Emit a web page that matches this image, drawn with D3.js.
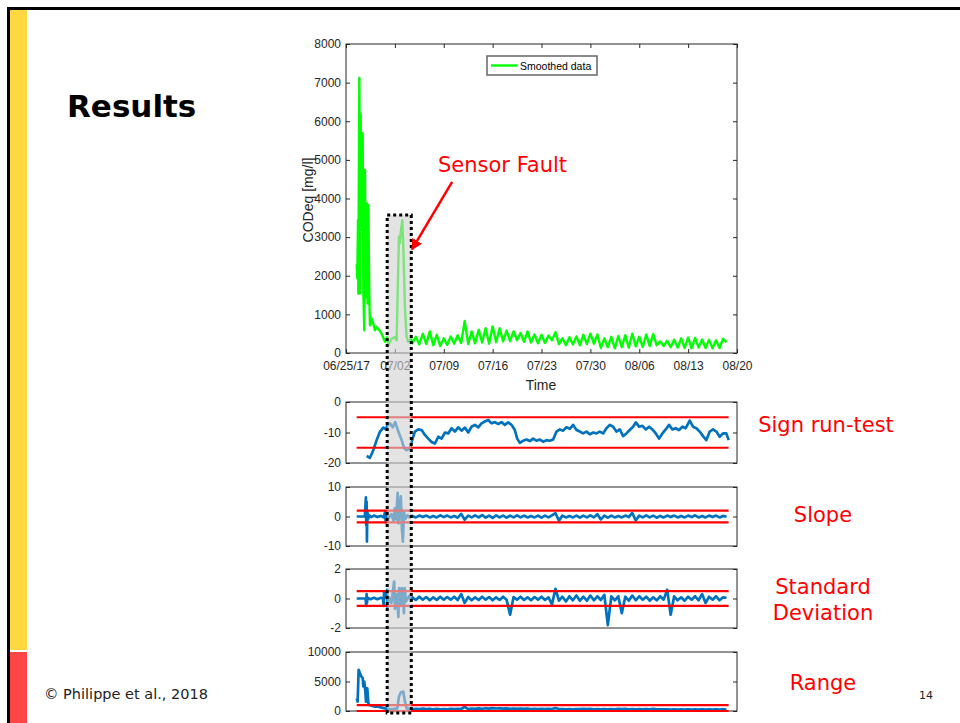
<!DOCTYPE html>
<html>
<head>
<meta charset="utf-8">
<script src="https://cdn.jsdelivr.net/npm/d3@7/dist/d3.min.js"></script>
<style>
  html, body { margin: 0; padding: 0; background: #fff; }
  svg { display: block; }
</style>
</head>
<body>
<svg id="slide" width="960" height="723"></svg>
<script>
// ---- data (time in days after 06/25/17) ----
const startDate = new Date(2017, 5, 25);
const endDate = new Date(2017, 7, 20);
const tailStart = 9.5;   // regular half-day sampling after the fault
const tailStep = 0.5;

// smoothed CODeq [mg/l]
const codEarly = [
  [1.53, 2300], [1.62, 1930], [1.72, 3440], [1.76, 1540], [1.91, 7120], [2.00, 1540],
  [2.10, 6170], [2.24, 3180], [2.39, 5690], [2.48, 1630], [2.62, 590], [2.72, 4740],
  [2.81, 1450], [2.96, 3880], [3.10, 1280], [3.20, 3830], [3.34, 1450], [3.43, 720],
  [3.67, 890], [3.91, 760], [4.15, 590], [4.39, 670], [4.77, 590], [5.10, 500],
  [5.58, 290], [5.91, 415], [6.06, 200], [6.53, 370], [7.01, 415], [7.25, 330],
  [7.58, 3010], [7.73, 2840], [7.87, 3180], [8.06, 3440], [8.20, 2840], [8.44, 1190],
  [8.68, 415], [8.92, 290], [9.30, 370]
];
const codTail = [
  250, 420, 220, 500, 230, 560, 200, 470, 180, 380,
  210, 430, 240, 460, 260, 830, 230, 560, 250, 600,
  270, 640, 240, 690, 280, 640, 300, 580, 310, 560,
  330, 520, 290, 560, 270, 480, 250, 470, 260, 450,
  330, 540, 230, 380, 200, 410, 220, 430, 200, 470,
  230, 500, 240, 480, 130, 380, 150, 420, 120, 440,
  150, 460, 140, 500, 170, 420, 160, 480, 180, 490,
  200, 300, 180, 320, 150, 340, 140, 380, 130, 400,
  120, 390, 140, 350, 130, 340, 120, 330, 130, 370,
  280
];

// sign run-test
const signPairs = [
  [2.96, -17.7], [3.43, -18.3], [3.91, -15.8], [4.39, -12.5], [4.87, -9.7], [5.34, -8.4],
  [5.72, -9.0], [5.91, -7.8], [6.30, -7.0], [6.68, -8.3], [7.06, -6.6], [7.49, -9.7],
  [7.97, -12.5], [8.35, -15.2], [8.68, -15.8], [9.16, -15.2], [9.40, -13.0], [9.87, -9.7],
  [10.35, -9.0], [10.83, -9.2], [11.30, -10.8], [11.78, -12.0], [12.26, -13.1], [12.74, -13.6],
  [13.21, -11.4], [13.69, -12.0], [14.17, -10.0], [14.64, -10.3], [15.12, -8.6], [15.60, -9.7],
  [16.07, -8.3], [16.55, -9.4], [17.03, -8.4], [17.51, -10.0], [17.98, -8.1], [18.46, -7.5],
  [18.94, -8.3], [19.41, -7.0], [19.89, -6.4], [20.37, -5.9], [20.84, -7.0], [21.32, -6.6],
  [21.80, -7.2], [22.28, -6.6], [22.75, -7.5], [23.23, -6.7], [23.71, -7.5], [24.18, -9.2],
  [24.52, -12.0], [24.90, -13.4], [25.38, -12.7], [25.85, -12.3], [26.33, -12.8], [26.81, -12.0],
  [27.28, -12.7], [27.76, -12.3], [28.24, -13.0], [28.72, -12.5], [29.19, -12.7], [29.67, -12.3],
  [30.15, -9.7], [30.62, -9.0], [31.10, -9.4], [31.58, -8.3], [32.05, -8.8], [32.53, -7.5],
  [33.01, -9.2], [33.49, -9.7], [33.96, -10.3], [34.44, -9.7], [34.92, -10.6], [35.39, -10.0],
  [35.87, -10.3], [36.35, -9.7], [36.82, -10.3], [37.30, -8.6], [37.78, -7.5], [38.26, -8.1],
  [38.73, -9.7], [39.21, -9.0], [39.69, -11.2], [40.16, -10.3], [40.64, -9.2], [41.12, -8.1],
  [41.50, -6.7], [41.98, -8.1], [42.45, -7.8], [42.93, -9.0], [43.41, -8.1], [43.88, -9.0],
  [44.36, -10.3], [44.84, -12.0], [45.32, -10.3], [45.79, -9.0], [46.27, -7.5], [46.75, -9.0],
  [47.22, -8.6], [47.70, -9.2], [48.18, -8.1], [48.65, -8.6], [49.23, -6.1], [49.70, -8.1],
  [50.18, -8.6], [50.66, -9.7], [51.13, -11.2], [51.61, -12.5], [52.09, -9.7], [52.57, -9.0],
  [53.04, -9.7], [53.52, -11.4], [54.00, -10.3], [54.47, -10.3], [54.81, -12.5]
];

// slope
const slopeEarly = [
  [1.53, 0], [2.70, 0], [2.85, 6.5], [2.90, -3], [2.95, 5], [3.00, -8.5], [3.05, 2],
  [3.15, -1], [3.30, 0.4], [3.60, -0.2], [4.00, 0.3], [4.50, -0.2], [5.00, 0.2], [5.40, -0.3],
  [5.60, 1.5], [5.70, -2], [5.80, 0.3], [6.10, -0.5], [6.50, 0.8], [6.80, -1.5], [7.00, 2.8],
  [7.20, -1], [7.40, 8], [7.50, -2.3], [7.70, 3], [7.85, 6.8], [8.00, -4], [8.15, -8.5],
  [8.30, 1.5], [8.50, -0.8], [8.80, 0.4], [9.10, -0.3], [9.40, 0.2]
];
const slopeTail = [
  0.2, -0.3, 0.3, -0.2, 0.3, -0.3, 0.2, -0.3, 0.4, -0.2,
  0.3, -0.3, 0.2, -0.4, 0.9, -1.1, 0.3, -0.3, 0.4, -0.3,
  0.5, -0.4, 0.3, -0.5, 0.4, -0.3, 0.3, -0.4, 0.3, -0.3,
  0.4, -0.3, 0.3, -0.3, 0.2, -0.3, 0.3, -0.4, 0.3, -0.3,
  0.4, 1.1, -1.4, 0.3, -0.3, 0.2, -0.3, 0.3, -0.4, 0.3,
  -0.3, 0.4, -0.3, 0.8, -1.0, 0.3, -0.4, 0.3, -0.3, 0.2,
  -0.3, 0.3, -0.2, 1.2, -1.3, 0.3, -0.3, 0.4, -0.3, 0.3,
  -0.4, 0.2, -0.3, 0.3, -0.2, 0.3, -0.3, 0.2, -0.3, 0.3,
  -0.2, 0.4, -0.3, 0.2, -0.3, 0.3, -0.2, 0.3, -0.3, 0.2,
  -0.1
];

// standard deviation
const stdEarly = [
  [1.53, 0], [2.80, 0], [2.90, -0.5], [2.95, 0.3], [3.00, -0.3], [3.10, 0.05], [3.50, -0.05],
  [4.00, 0.05], [4.50, -0.05], [5.00, 0.05], [5.30, 0], [5.40, -0.5], [5.45, 0.4], [5.50, 0],
  [5.90, 0.6], [5.95, -0.6], [6.10, 0.1], [6.50, -0.3], [6.90, 1.15], [7.00, -0.7], [7.30, 0.3],
  [7.50, -1.25], [7.60, 0.7], [7.80, -0.5], [8.00, 0.7], [8.20, -0.3], [8.30, -1.0], [8.40, 0.7],
  [8.60, -0.2], [9.00, 0.15], [9.40, -0.08]
];
const stdTail = [
  0.08, -0.1, 0.12, -0.08, 0.1, -0.12, 0.08, -0.1, 0.12, -0.08,
  0.1, -0.08, 0.12, -0.1, 0.3, -0.3, 0.1, -0.12, 0.08, -0.1,
  0.12, -0.08, 0.1, -0.12, 0.08, -0.1, 0.12, -0.08, -1.1, 0.1,
  -0.08, 0.12, -0.1, 0.08, -0.12, 0.1, -0.08, 0.12, -0.1, 0.08,
  -0.4, 0.65, -0.15, 0.12, -0.2, 0.15, -0.12, 0.2, -0.15, 0.12,
  -0.15, 0.2, -0.12, 0.15, -0.1, 0.25, -1.8, 0.15, -0.12, 0.15,
  -1.0, 0.12, -0.15, 0.2, -0.12, 0.15, -0.08, 0.12, -0.15, 0.08,
  -0.12, 0.15, -0.08, 0.6, -1.1, 0.15, -0.12, 0.08, -0.15, 0.12,
  -0.08, 0.15, -0.12, 0.3, -0.3, 0.12, -0.08, 0.15, -0.12, 0.08,
  0.05
];

// range
const rangeEarly = [
  [1.53, 2160], [1.67, 1590], [1.81, 6990], [2.00, 6420], [2.19, 5850], [2.39, 5570],
  [2.48, 4150], [2.62, 5000], [2.77, 3300], [2.86, 1590], [3.05, 3860], [3.20, 1310],
  [3.34, 1020], [3.67, 910], [4.15, 740], [4.63, 740], [5.10, 570], [5.58, 450],
  [6.06, 340], [6.77, 340], [7.35, 450], [7.58, 2440], [7.87, 3180], [8.20, 3290],
  [8.44, 1590], [8.68, 450], [9.16, 340]
];
const rangeTail = [
  300, 350, 320, 400, 330, 380, 300, 350, 280, 330,
  300, 360, 320, 380, 340, 700, 330, 420, 350, 440,
  380, 460, 400, 480, 420, 450, 400, 430, 380, 420,
  370, 400, 350, 390, 340, 380, 330, 360, 320, 350,
  330, 500, 340, 320, 290, 330, 300, 340, 310, 350,
  320, 360, 300, 340, 280, 330, 290, 340, 300, 360,
  310, 350, 290, 340, 300, 330, 280, 320, 290, 380,
  300, 280, 260, 290, 250, 280, 240, 290, 250, 300,
  240, 280, 250, 270, 240, 260, 230, 270, 240, 260,
  250
];

// control limits and fault window
const limitSpan = [1.53, 54.8];
const signLimits = [-5, -15];
const slopeLimits = [2, -2];
const stdLimits = [0.5, -0.5];
const rangeLimits = [1000, 0];
const faultWindow = [5.9, 9.35];
const faultTopCod = 3570;

// ---- drawing ----
const svg = d3.select('#slide');
const toDate = d => new Date(startDate.getTime() + d * 864e5);
const withTail = (early, tail) => early.concat(tail.map((v, i) => [tailStart + i * tailStep, v]));
const plainNum = d => String(d);   // ascii hyphen minus, like the original figure

const axisColor = '#262626';
const tickFont = '"Liberation Sans", Arial, sans-serif';
const slideFont = '"DejaVu Sans", Verdana, sans-serif';

// slide frame and side stripe
svg.append('rect').attr('x', 7).attr('y', 7).attr('width', 953).attr('height', 3).attr('fill', '#000');
svg.append('rect').attr('x', 7).attr('y', 7).attr('width', 3).attr('height', 716).attr('fill', '#000');
svg.append('rect').attr('x', 10).attr('y', 10).attr('width', 17).attr('height', 640).attr('fill', '#ffd740');
svg.append('rect').attr('x', 10).attr('y', 652).attr('width', 17).attr('height', 71).attr('fill', '#ff4545');

svg.append('text').attr('x', 67).attr('y', 117)
  .style('font-family', slideFont).style('font-weight', 'bold').style('font-size', '31px')
  .attr('fill', '#000').text('Results');

svg.append('text').attr('x', 44).attr('y', 699)
  .style('font-family', slideFont).style('font-size', '14.5px').attr('fill', '#222')
  .text('© Philippe et al., 2018');
svg.append('text').attr('x', 919).attr('y', 699)
  .style('font-family', slideFont).style('font-size', '11px').attr('fill', '#222').text('14');

const x = d3.scaleTime().domain([startDate, endDate]).range([346, 737]);

function styleAxis(g) {
  g.select('.domain').remove();
  g.selectAll('line').attr('stroke', axisColor);
  g.selectAll('text').attr('fill', axisColor).style('font-family', tickFont).style('font-size', '12px');
}

// ---- main chart ----
const mainBox = { t: 44, b: 353 };
const yCod = d3.scaleLinear().domain([0, 8000]).range([mainBox.b, mainBox.t]);
const main = svg.append('g');

const fmtFirst = d3.timeFormat('%m/%d/%y'), fmtRest = d3.timeFormat('%m/%d');
const weekTicks = x.ticks(d3.timeWeek.every(1));

main.append('g').attr('transform', `translate(0,${mainBox.b})`)
  .call(d3.axisBottom(x).tickValues(weekTicks).tickSize(-4).tickPadding(8)
    .tickFormat((d, i) => i === 0 ? fmtFirst(d) : fmtRest(d)))
  .call(styleAxis);
main.append('g').attr('transform', `translate(0,${mainBox.t})`)
  .call(d3.axisTop(x).tickValues(weekTicks).tickSize(-4).tickFormat(''))
  .call(styleAxis);
main.append('g').attr('transform', 'translate(346,0)')
  .call(d3.axisLeft(yCod).ticks(8).tickSize(-4).tickPadding(5).tickFormat(plainNum))
  .call(styleAxis);
main.append('g').attr('transform', 'translate(737,0)')
  .call(d3.axisRight(yCod).ticks(8).tickSize(-4).tickFormat(''))
  .call(styleAxis);
main.append('rect').attr('x', 346).attr('y', mainBox.t).attr('width', 391).attr('height', mainBox.b - mainBox.t)
  .attr('fill', 'none').attr('stroke', axisColor).attr('stroke-width', 1);

main.append('path').datum(withTail(codEarly, codTail))
  .attr('fill', 'none').attr('stroke', '#00ff00').attr('stroke-width', 2.4).attr('stroke-linejoin', 'round')
  .attr('d', d3.line().x(d => x(toDate(d[0]))).y(d => yCod(d[1])));

main.append('text').attr('x', 541).attr('y', 390).attr('text-anchor', 'middle')
  .style('font-family', tickFont).style('font-size', '14px').attr('fill', axisColor).text('Time');
main.append('text').attr('transform', 'translate(313,200) rotate(-90)').attr('text-anchor', 'middle')
  .style('font-family', tickFont).style('font-size', '14px').attr('fill', axisColor).text('CODeq [mg/l]');

// legend
const legend = main.append('g');
legend.append('rect').attr('x', 487).attr('y', 56).attr('width', 110).attr('height', 19)
  .attr('fill', '#fff').attr('stroke', '#666').attr('stroke-width', 1.5);
legend.append('line').attr('x1', 491).attr('x2', 517).attr('y1', 65.5).attr('y2', 65.5)
  .attr('stroke', '#00ff00').attr('stroke-width', 2.4);
legend.append('text').attr('x', 520).attr('y', 69.5)
  .style('font-family', tickFont).style('font-size', '10.5px').attr('fill', '#000').text('Smoothed data');

// ---- diagnostic panels ----
const panels = [
  { t: 402, b: 463, domain: [-20, 0], ticks: [-20, -10, 0], limits: signLimits, data: signPairs, label: ['Sign run-test'], ly: [432], cx: 826 },
  { t: 487, b: 546, domain: [-10, 10], ticks: [-10, 0, 10], limits: slopeLimits, data: withTail(slopeEarly, slopeTail), label: ['Slope'], ly: [522], cx: 823 },
  { t: 569, b: 628, domain: [-2, 2], ticks: [-2, 0, 2], limits: stdLimits, data: withTail(stdEarly, stdTail), label: ['Standard', 'Deviation'], ly: [594, 620], cx: 823 },
  { t: 652, b: 711, domain: [0, 10000], ticks: [0, 5000, 10000], limits: rangeLimits, data: withTail(rangeEarly, rangeTail), label: ['Range'], ly: [690], cx: 823 }
];

panels.forEach(p => {
  const y = d3.scaleLinear().domain(p.domain).range([p.b, p.t]);
  const g = svg.append('g');
  g.append('g').attr('transform', 'translate(346,0)')
    .call(d3.axisLeft(y).tickValues(p.ticks).tickSize(-4).tickPadding(5).tickFormat(plainNum))
    .call(styleAxis);
  g.append('g').attr('transform', 'translate(737,0)')
    .call(d3.axisRight(y).tickValues(p.ticks).tickSize(-4).tickFormat(''))
    .call(styleAxis);
  g.append('rect').attr('x', 346).attr('y', p.t).attr('width', 391).attr('height', p.b - p.t)
    .attr('fill', 'none').attr('stroke', axisColor).attr('stroke-width', 1);

  g.append('path').datum(p.data)
    .attr('fill', 'none').attr('stroke', '#0072bd').attr('stroke-width', 2.7).attr('stroke-linejoin', 'round')
    .attr('d', d3.line().x(d => x(toDate(d[0]))).y(d => y(d[1])));

  g.selectAll('.limit').data(p.limits).join('line').attr('class', 'limit')
    .attr('x1', x(toDate(limitSpan[0]))).attr('x2', x(toDate(limitSpan[1])))
    .attr('y1', d => y(d)).attr('y2', d => y(d))
    .attr('stroke', '#ff0000').attr('stroke-width', 2.2);

  p.label.forEach((s, i) => {
    svg.append('text').attr('x', p.cx).attr('y', p.ly[i]).attr('text-anchor', 'middle')
      .style('font-family', slideFont).style('font-size', '21px').attr('fill', '#ff0000').text(s);
  });
});

// ---- fault window overlay ----
const fx0 = x(toDate(faultWindow[0])), fx1 = x(toDate(faultWindow[1]));
const fy0 = yCod(faultTopCod), fy1 = panels[3].b + 2;
svg.append('rect').attr('x', fx0).attr('y', fy0).attr('width', fx1 - fx0).attr('height', fy1 - fy0)
  .attr('fill', '#d0d0d0').attr('fill-opacity', 0.6);
svg.append('rect').attr('x', fx0).attr('y', fy0).attr('width', fx1 - fx0).attr('height', fy1 - fy0)
  .attr('fill', 'none').attr('stroke', '#000').attr('stroke-width', 3).attr('stroke-dasharray', '3,3');

// ---- annotation ----
svg.append('defs').append('marker').attr('id', 'head')
  .attr('viewBox', '0 0 10 10').attr('refX', 9).attr('refY', 5)
  .attr('markerWidth', 4.5).attr('markerHeight', 4.5).attr('orient', 'auto')
  .append('path').attr('d', 'M0,0L10,5L0,10z').attr('fill', '#ff0000');
svg.append('line')
  .attr('x1', x(toDate(15.2))).attr('y1', yCod(4430))
  .attr('x2', x(toDate(9.45))).attr('y2', yCod(2680))
  .attr('stroke', '#ff0000').attr('stroke-width', 2.5).attr('marker-end', 'url(#head)');
svg.append('text').attr('x', 438).attr('y', 172)
  .style('font-family', slideFont).style('font-size', '21px').attr('fill', '#ff0000').text('Sensor Fault');
</script>
</body>
</html>
